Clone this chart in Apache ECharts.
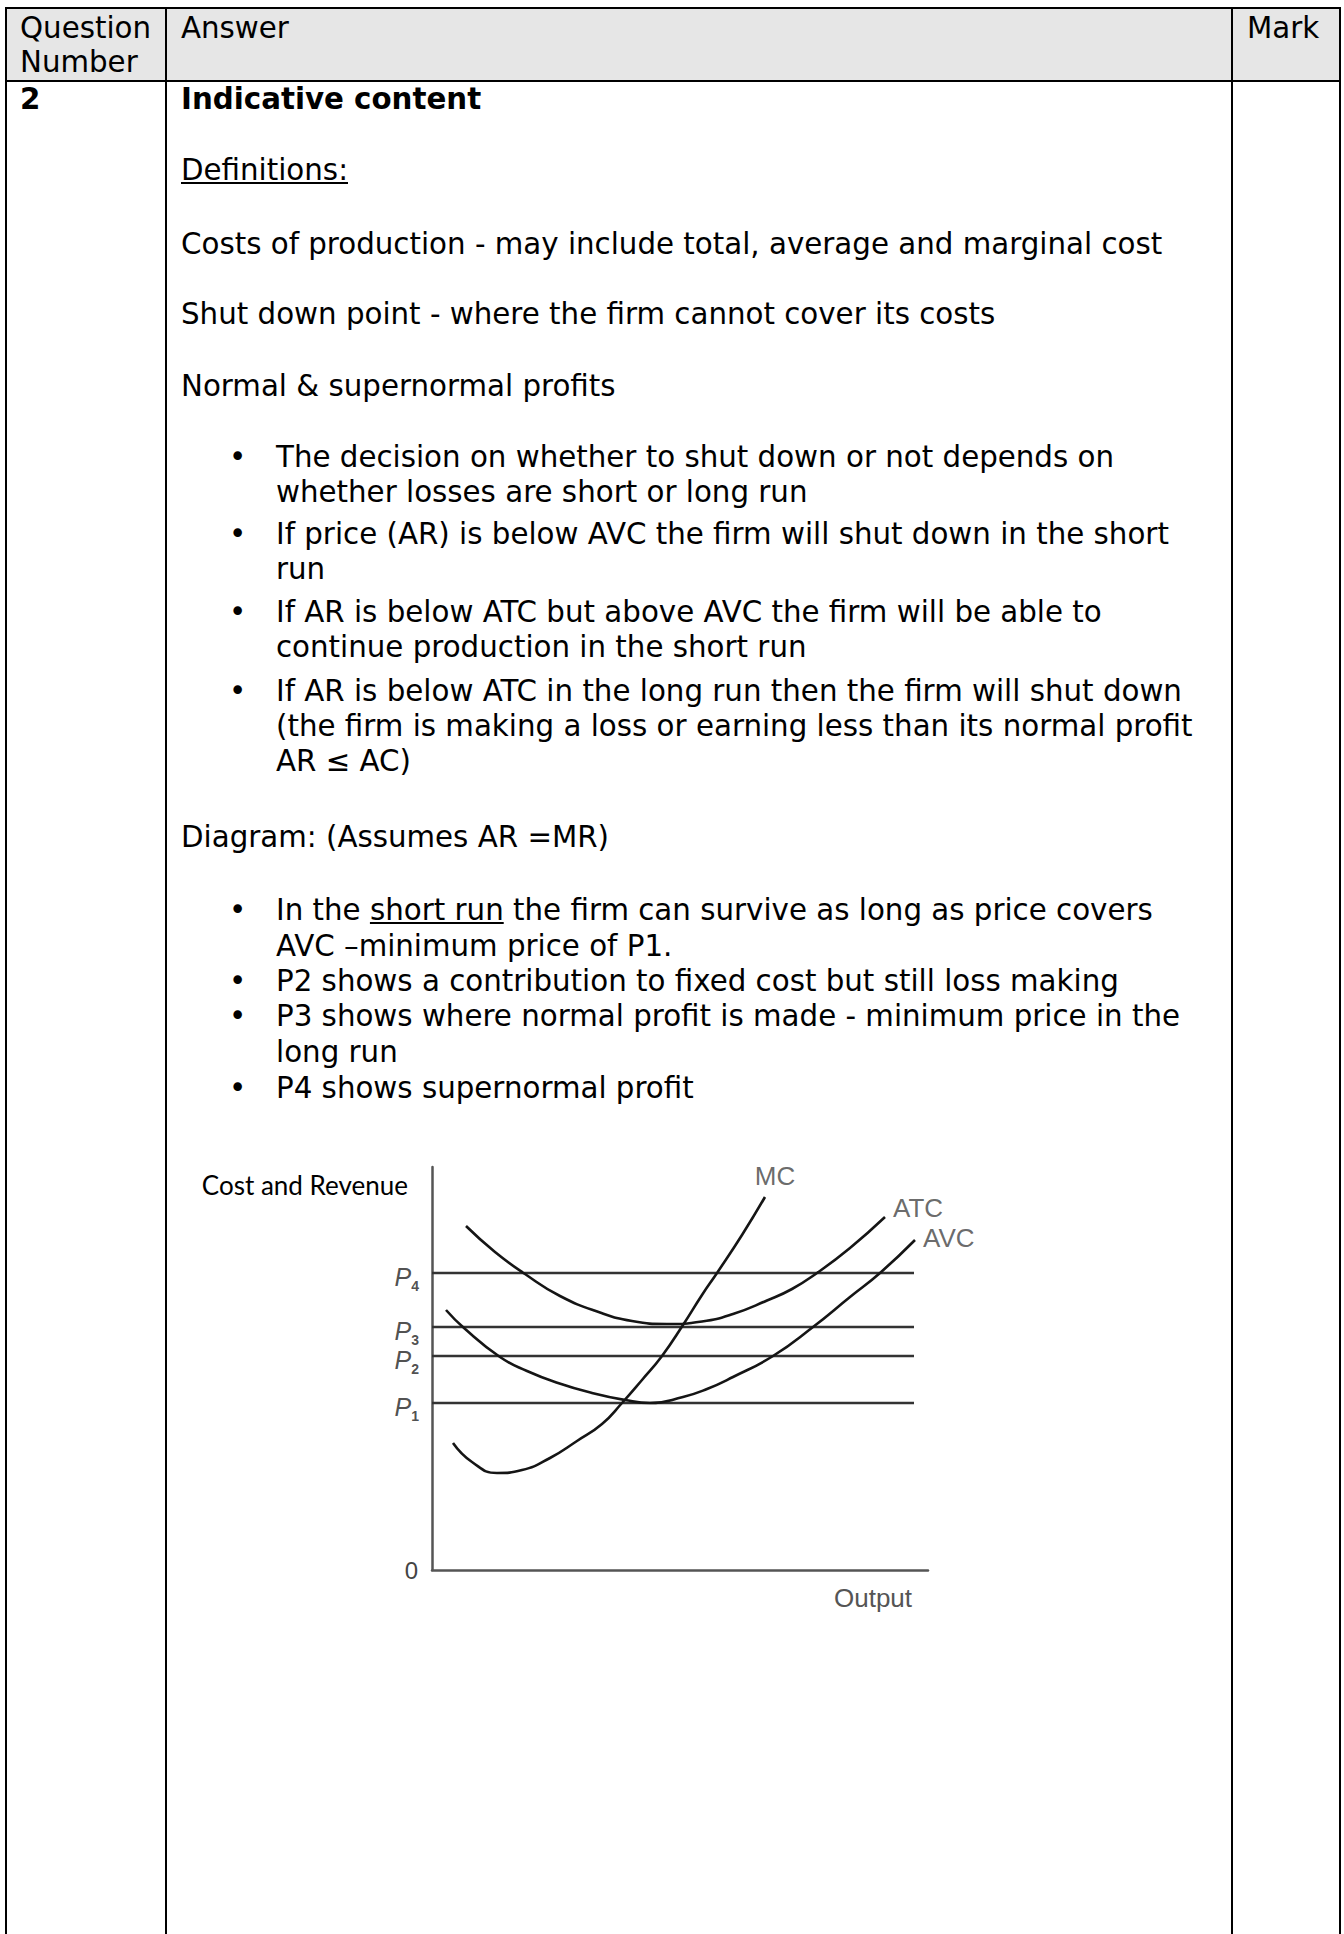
<!DOCTYPE html>
<html><head><meta charset="utf-8">
<script src="https://cdn.jsdelivr.net/npm/echarts@6/dist/echarts.min.js"></script>
<style>
html,body{margin:0;padding:0;background:#fff;}
#page{position:relative;width:1344px;height:1934px;overflow:hidden;font-family:"DejaVu Sans",Verdana,sans-serif;font-size:29.3px;color:#000;}
.t{position:absolute;white-space:nowrap;line-height:35px;height:35px;}
.rule{position:absolute;background:#000;}
#chart{position:absolute;left:170px;top:1100px;width:1000px;height:560px;}
</style></head><body><div id="page">
<div style="position:absolute;left:6px;top:8px;width:1334px;height:73px;background:#e6e6e6"></div>
<div class="rule" style="left:5px;top:7px;width:1336px;height:2px"></div>
<div class="rule" style="left:5px;top:80px;width:1336px;height:2px"></div>
<div class="rule" style="left:5px;top:7px;width:2px;height:1927px"></div>
<div class="rule" style="left:165px;top:7px;width:2px;height:1927px"></div>
<div class="rule" style="left:1231px;top:7px;width:2px;height:1927px"></div>
<div class="rule" style="left:1339px;top:7px;width:2px;height:1927px"></div>
<div id="text"></div>
<div id="chart"></div>
</div>
<script>
// ---- page text (baseline, x, html) ----
const textLines = [
  [39, 20, 'Question'], [73, 20, 'Number'], [39, 181, 'Answer'], [39, 1247, 'Mark'],
  [110, 20, '<b>2</b>'], [110, 181, '<b>Indicative content</b>'],
  [181, 181, '<u>Definitions:</u>'],
  [255, 181, 'Costs of production - may include total, average and marginal cost'],
  [325, 181, 'Shut down point - where the firm cannot cover its costs'],
  [397, 181, 'Normal &amp; supernormal profits'],
  [468, 229, '\u2022'], [468, 276, 'The decision on whether to shut down or not depends on'],
  [503, 276, 'whether losses are short or long run'],
  [545, 229, '\u2022'], [545, 276, 'If price (AR) is below AVC the firm will shut down in the short'],
  [580, 276, 'run'],
  [623, 229, '\u2022'], [623, 276, 'If AR is below ATC but above AVC the firm will be able to'],
  [658, 276, 'continue production in the short run'],
  [702, 229, '\u2022'], [702, 276, 'If AR is below ATC in the long run then the firm will shut down'],
  [737, 276, '(the firm is making a loss or earning less than its normal profit'],
  [772, 276, 'AR \u2264 AC)'],
  [848, 181, 'Diagram: (Assumes AR =MR)'],
  [921, 229, '\u2022'], [921, 276, 'In the <u>short run</u> the firm can survive as long as price covers'],
  [957, 276, 'AVC \u2013minimum price of P1.'],
  [992, 229, '\u2022'], [992, 276, 'P2 shows a contribution to fixed cost but still loss making'],
  [1027, 229, '\u2022'], [1027, 276, 'P3 shows where normal profit is made - minimum price in the'],
  [1063, 276, 'long run'],
  [1099, 229, '\u2022'], [1099, 276, 'P4 shows supernormal profit']
];
const holder = document.getElementById('text');
textLines.forEach(([base, x, html]) => {
  const d = document.createElement('div');
  d.className = 't';
  d.style.left = x + 'px';
  d.style.top = (base - 27.6) + 'px';
  d.innerHTML = html;
  holder.appendChild(d);
});

// ---- chart data ----
const mcData = [[4.2,25.4],[8.0,21.6],[13.0,19.4],[18.0,20.0],[23.6,22.4],[29.0,25.8],[34.0,29.2],[38.0,33.4],[42.0,38.0],[46.0,42.8],[50.2,49.0],[54.0,55.0],[57.0,59.4],[62.0,67.0],[66.6,74.6]];
const atcData = [[6.8,68.8],[12.6,63.6],[18.6,59.2],[25.6,54.8],[33.6,51.5],[40.0,49.8],[47.0,49.2],[54.0,49.7],[60.2,51.2],[67.0,53.9],[72.0,56.2],[77.0,59.4],[83.6,64.4],[90.6,70.6]];
const avcData = [[2.8,52.0],[6.4,48.4],[13.6,42.6],[19.0,39.8],[25.2,37.4],[32.0,35.4],[38.6,34.0],[43.6,33.4],[50.2,34.6],[55.0,36.2],[60.2,38.6],[68.2,42.8],[76.2,48.6],[83.6,54.6],[89.6,59.4],[96.6,66.0]];
const priceLevels = [33.4, 42.8, 48.6, 59.4];
const priceSubscripts = ['1', '2', '3', '4'];
const priceLineEnd = 96.4;
const curveNames = ['MC', 'ATC', 'AVC'];
const curveData = [mcData, atcData, avcData];
const xMax = 99.2, yMax = 80.6, yInterval = 80;

const labelFont = 'Liberation Sans, Arial, sans-serif';
const curveLabelPos = [
  {position: 'top', distance: 8, offset: [10, 0]},
  {position: 'right', distance: 8, offset: [0, -9]},
  {position: 'right', distance: 8, offset: [0, -2]}
];

const series = [];
priceLevels.forEach(p => {
  series.push({type: 'line', data: [[0, p], [priceLineEnd, p]], symbol: 'none', silent: true,
    lineStyle: {color: '#333', width: 2.6}, z: 2});
});
curveNames.forEach((name, i) => {
  series.push({type: 'line', name: name, data: curveData[i], smooth: 0.5,
    symbol: 'none', silent: true, lineStyle: {color: '#151515', width: 2.6}, z: 3});
  const last = curveData[i][curveData[i].length - 1];
  series.push({type: 'scatter', data: [last], symbolSize: 0, silent: true, clip: false,
    label: Object.assign({show: true, formatter: name, fontFamily: labelFont, fontSize: 26, color: '#444'}, curveLabelPos[i])});
});
series.push({type: 'scatter', symbolSize: 0, silent: true, clip: false,
  data: priceLevels.map((p, i) => ({value: [0, p], label: {formatter: '{p|P}{s|' + priceSubscripts[i] + '}'}})),
  label: {show: true, position: 'left', distance: 13, offset: [0, 3],
    rich: {
      p: {fontFamily: labelFont, fontStyle: 'italic', fontSize: 25, color: '#222', lineHeight: 26, verticalAlign: 'bottom'},
      s: {fontFamily: labelFont, fontSize: 14, fontWeight: 'bold', color: '#222', lineHeight: 14, verticalAlign: 'bottom', padding: [0, 0, -4, 0]}
    }}
});

const chart = echarts.init(document.getElementById('chart'), null, {renderer: 'svg'});
chart.setOption({
  animation: false,
  grid: {left: 262, top: 67, width: 496, height: 403},
  xAxis: {type: 'value', min: 0, max: xMax, axisLine: {show: true, lineStyle: {color: '#555', width: 2.5}},
    axisTick: {show: false}, axisLabel: {show: false}, splitLine: {show: false},
    name: 'Output', nameLocation: 'end', nameGap: -94,
    nameTextStyle: {align: 'left', verticalAlign: 'top', padding: [15, 0, 0, 0], fontFamily: labelFont, fontSize: 26, lineHeight: 26, color: '#555'}},
  yAxis: {type: 'value', min: 0, max: yMax, interval: yInterval,
    axisLine: {show: true, lineStyle: {color: '#555', width: 2.5}}, axisTick: {show: false}, splitLine: {show: false},
    axisLabel: {margin: 14, formatter: v => (v === 0 ? '0' : ''), fontFamily: labelFont, fontSize: 24, color: '#444'},
    name: 'Cost and Revenue', nameLocation: 'end', nameGap: 3,
    nameTextStyle: {align: 'right', verticalAlign: 'top', fontFamily: 'Lato, sans-serif', fontSize: 26, lineHeight: 24,
      color: '#000', padding: [9, 24, 14, 30], backgroundColor: '#fff'}},
  series: series
});
</script>
</body></html>
